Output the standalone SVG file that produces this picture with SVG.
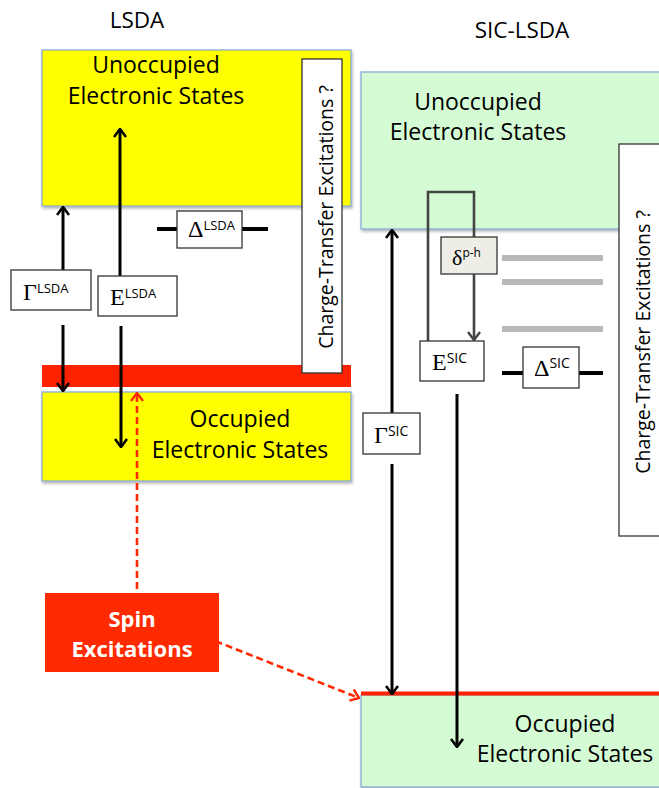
<svg xmlns="http://www.w3.org/2000/svg" width="659" height="788" viewBox="0 0 659 788">
<style>
.lbl{font-family:"Open Sans","Liberation Sans",Arial,sans-serif;font-size:23px;fill:#000}
.title{font-family:"Open Sans","Liberation Sans",Arial,sans-serif;font-size:22.5px;fill:#000}
.ct{font-family:"Open Sans","Liberation Sans",Arial,sans-serif;font-size:19.5px;fill:#000}
.sym{font-family:"Liberation Serif","Times New Roman",serif;font-size:24px;fill:#000}
.sup{font-family:"Open Sans","Liberation Sans",Arial,sans-serif;font-size:13px}
.box{fill:#fff;stroke:#333;stroke-width:1.3}
.yel{fill:#ffff00;stroke:#7fa6d6;stroke-width:1.2}
.grn{fill:#d5fbd5;stroke:#7fa6d6;stroke-width:1.2}
.blk{stroke:#000;stroke-width:3;fill:none}
.gry{stroke:#444;stroke-width:2.6;fill:none}
.red{stroke:#ff2a00;stroke-width:2.6;fill:none;stroke-dasharray:7 4}
.bar{stroke:#b8b8b8;stroke-width:6}
.spin{font-family:"Open Sans","Liberation Sans",Arial,sans-serif;font-size:22px;font-weight:bold;fill:#fff}
</style>
<defs>
<filter id="sh" x="-5%" y="-5%" width="110%" height="115%"><feDropShadow dx="1" dy="2" stdDeviation="1.5" flood-color="#000" flood-opacity="0.3"/></filter>
<marker id="ah" viewBox="0 0 10 14" refX="9" refY="7" markerWidth="10" markerHeight="14" markerUnits="userSpaceOnUse" orient="auto"><path d="M1,1 L9,7 L1,13" fill="none" stroke="#000" stroke-width="2.6"/></marker>
<marker id="ahg" viewBox="0 0 10 14" refX="9" refY="7" markerWidth="10" markerHeight="14" markerUnits="userSpaceOnUse" orient="auto"><path d="M1,1 L9,7 L1,13" fill="none" stroke="#444" stroke-width="2.4"/></marker>
<marker id="ahr" viewBox="0 0 10 14" refX="9" refY="7" markerWidth="10" markerHeight="14" markerUnits="userSpaceOnUse" orient="auto"><path d="M1,1 L9,7 L1,13" fill="none" stroke="#ff2a00" stroke-width="2.4"/></marker>
</defs>

<g id="titles">
<text class="title" x="137" y="28" text-anchor="middle">LSDA</text>
<text class="title" x="522" y="38" text-anchor="middle">SIC-LSDA</text>
</g>

<g id="lsda-unocc">
<rect class="yel" x="42" y="50" width="309" height="156" filter="url(#sh)"/>
<text class="lbl" x="156" y="73" text-anchor="middle">Unoccupied</text>
<text class="lbl" x="156" y="104" text-anchor="middle">Electronic States</text>
</g>

<g id="lsda-fermi">
<rect x="42" y="365" width="309" height="22" fill="#ff2200"/>
</g>

<g id="lsda-occ">
<rect class="yel" x="42" y="392" width="309" height="89" filter="url(#sh)"/>
<text class="lbl" x="240" y="427" text-anchor="middle">Occupied</text>
<text class="lbl" x="240" y="458" text-anchor="middle">Electronic States</text>
</g>

<g id="lsda-ct">
<rect class="box" x="302" y="59" width="40" height="314"/>
<text class="ct" transform="translate(333,217) rotate(-90)" text-anchor="middle">Charge-Transfer Excitations ?</text>
</g>

<g id="sic-unocc">
<rect class="grn" x="361" y="72" width="300" height="157" filter="url(#sh)"/>
<text class="lbl" x="478" y="110" text-anchor="middle">Unoccupied</text>
<text class="lbl" x="478" y="140" text-anchor="middle">Electronic States</text>
</g>

<g id="sic-ct">
<rect class="box" x="619" y="144" width="45" height="392"/>
<text class="ct" transform="translate(650,342) rotate(-90)" text-anchor="middle">Charge-Transfer Excitations ?</text>
</g>

<g id="sic-occ">
<rect class="grn" x="361" y="695" width="300" height="92" filter="url(#sh)"/>
<line x1="361" y1="693.5" x2="659" y2="693.5" stroke="#ff2200" stroke-width="4"/>
<text class="lbl" x="565" y="732" text-anchor="middle">Occupied</text>
<text class="lbl" x="565" y="762" text-anchor="middle">Electronic States</text>
</g>

<g id="levels">
<line class="bar" x1="502" y1="258" x2="603" y2="258"/>
<line class="bar" x1="502" y1="282" x2="603" y2="282"/>
<line class="bar" x1="502" y1="329" x2="603" y2="329"/>
</g>

<g id="connectors">
<line class="blk" x1="63" y1="270" x2="63" y2="207" marker-end="url(#ah)"/>
<line class="blk" x1="63" y1="325" x2="63" y2="391" marker-end="url(#ah)"/>
<line class="blk" x1="120" y1="276" x2="120" y2="129" marker-end="url(#ah)"/>
<line class="blk" x1="121" y1="326" x2="121" y2="447" marker-end="url(#ah)"/>
<line x1="157" y1="229" x2="268" y2="229" stroke="#000" stroke-width="4"/>
<line class="blk" x1="392" y1="413" x2="392" y2="230" marker-end="url(#ah)"/>
<line class="blk" x1="392" y1="464" x2="392" y2="694" marker-end="url(#ah)"/>
<line class="blk" x1="457" y1="394" x2="457" y2="747" marker-end="url(#ah)"/>
<line x1="502" y1="373" x2="603" y2="373" stroke="#000" stroke-width="4"/>
<path class="gry" d="M428,341 V192 H474 V237"/>
<line class="gry" x1="474" y1="274" x2="474" y2="340" marker-end="url(#ahg)"/>
<line class="red" x1="137" y1="600" x2="137" y2="393" marker-end="url(#ahr)"/>
<line class="red" x1="195" y1="633" x2="359" y2="698" marker-end="url(#ahr)"/>
</g>

<g id="gamma-lsda">
<rect class="box" x="11" y="270" width="80" height="40"/>
<text class="sym" x="23" y="300">Γ<tspan class="sup" dy="-7">LSDA</tspan></text>
</g>

<g id="e-lsda">
<rect class="box" x="98" y="276" width="79" height="40"/>
<text class="sym" x="110" y="305">E<tspan class="sup" dy="-7">LSDA</tspan></text>
</g>

<g id="delta-lsda">
<rect class="box" x="177" y="211" width="65" height="37"/>
<text class="sym" x="188" y="237">Δ<tspan class="sup" dy="-7">LSDA</tspan></text>
</g>

<g id="delta-ph">
<rect x="441" y="237" width="56" height="37" fill="#eeeee6" stroke="#333" stroke-width="1.3"/>
<text class="sym" x="452" y="265" style="font-size:22px">δ<tspan class="sup" dy="-8" style="font-size:12px">p-h</tspan></text>
</g>

<g id="e-sic">
<rect class="box" x="420" y="341" width="64" height="40"/>
<text class="sym" x="432" y="370">E<tspan class="sup" dy="-7" style="font-size:14px">SIC</tspan></text>
</g>

<g id="delta-sic">
<rect class="box" x="523" y="347" width="56" height="41"/>
<text class="sym" x="534" y="376">Δ<tspan class="sup" dy="-8" style="font-size:14px">SIC</tspan></text>
</g>

<g id="gamma-sic">
<rect class="box" x="363" y="413" width="57" height="41"/>
<text class="sym" x="374" y="443">Γ<tspan class="sup" dy="-7" style="font-size:14px">SIC</tspan></text>
</g>

<g id="spin">
<rect x="45" y="593" width="174" height="79" fill="#ff2a00"/>
<text class="spin" x="132" y="627" text-anchor="middle">Spin</text>
<text class="spin" x="132" y="657" text-anchor="middle">Excitations</text>
</g>
</svg>
